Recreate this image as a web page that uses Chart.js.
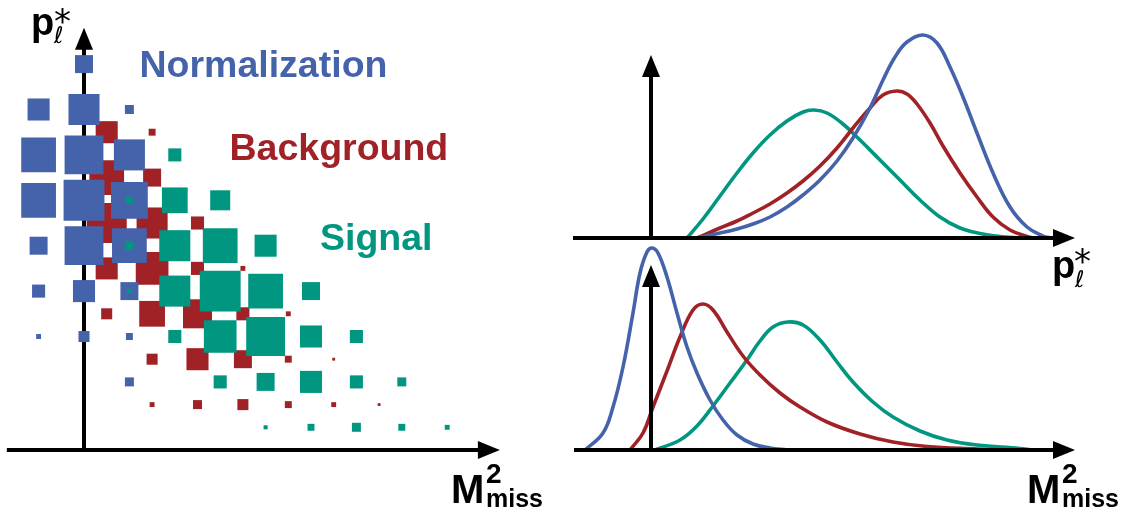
<!DOCTYPE html>
<html>
<head>
<meta charset="utf-8">
<script src="https://cdn.jsdelivr.net/npm/chart.js@4.4.1/dist/chart.umd.min.js"></script>
<style>
  html, body { margin: 0; padding: 0; background: #fff; }
  #wrap { position: relative; width: 1124px; height: 511px; overflow: hidden; background: #fff; }
  #wrap canvas { position: absolute; }
  #labels { position: absolute; left: 0; top: 0; }
  .lab { font-family: "Liberation Sans", Arial, Helvetica, sans-serif; font-weight: bold; }
  .sym { font-family: "DejaVu Sans", sans-serif; }
</style>
</head>
<body>
<div id="wrap">
  <canvas id="cLeft" width="560" height="511" style="left:0;top:0"></canvas>
  <canvas id="cTop" width="564" height="250" style="left:560px;top:0"></canvas>
  <canvas id="cBot" width="564" height="271" style="left:560px;top:240px"></canvas>
  <svg id="labels" width="1124" height="511" xmlns="http://www.w3.org/2000/svg">
    <text class="lab" x="139.5" y="77" font-size="37.5" fill="rgb(69,99,171)">Normalization</text>
    <text class="lab" x="229.5" y="160" font-size="37.5" fill="rgb(160,33,38)">Background</text>
    <text class="lab" x="320" y="250" font-size="37.5" fill="rgb(0,150,128)">Signal</text>

    <text class="lab" x="31" y="35" font-size="38" fill="#000">p</text>
    <text class="sym" x="54" y="43" font-size="23" font-style="italic" fill="#000">ℓ</text>
    <text class="sym" x="54" y="33" font-size="34" fill="#000">*</text>

    <text class="lab" x="1052" y="278" font-size="38" fill="#000">p</text>
    <text class="sym" x="1075" y="287" font-size="23" font-style="italic" fill="#000">ℓ</text>
    <text class="sym" x="1074" y="273" font-size="34" fill="#000">*</text>

    <text class="lab" x="451" y="503" font-size="40" fill="#000">M</text>
    <text class="lab" x="486" y="483" font-size="28" fill="#000">2</text>
    <text class="lab" x="486" y="507" font-size="25" fill="#000">miss</text>

    <text class="lab" x="1027" y="503" font-size="40" fill="#000">M</text>
    <text class="lab" x="1062" y="483" font-size="28" fill="#000">2</text>
    <text class="lab" x="1062" y="507" font-size="25" fill="#000">miss</text>
  </svg>
</div>
<script>
// ===== Left panel: 2D distribution p*_l vs M2miss =====
// each cell: [M2miss bin centre, p*_l bin centre, relative content (max = 100)]
const normalizationCells = [
  [0, 8.5, 44],
  [-1, 7.5, 54], [0, 7.5, 76], [1, 7.5, 22],
  [-1, 6.5, 85], [0, 6.5, 95], [1, 6.5, 76],
  [-1, 5.5, 85], [0, 5.5, 100], [1, 5.5, 90],
  [-1, 4.5, 44], [0, 4.5, 95], [1, 4.5, 85],
  [-1, 3.5, 32], [0, 3.5, 54], [1, 3.5, 44],
  [-1, 2.5, 12], [0, 2.5, 27], [1, 2.5, 17],
  [1, 1.5, 22]
];
const backgroundCells = [
  [0.5, 7, 54], [1.5, 7, 17],
  [0.5, 6, 85], [1.5, 6, 44],
  [0.5, 5, 98], [1.5, 5, 76], [2.5, 5, 32],
  [0.5, 4, 54], [1.5, 4, 80], [2.5, 4, 32], [3.5, 4, 12],
  [0.5, 3, 27], [1.5, 3, 63], [2.5, 3, 71], [3.5, 3, 32], [4.5, 3, 12],
  [1.5, 2, 27], [2.5, 2, 54], [3.5, 2, 44], [4.5, 2, 17], [5.5, 2, 7],
  [1.5, 1, 12], [2.5, 1, 22], [3.5, 1, 27], [4.5, 1, 17], [5.5, 1, 12], [6.5, 1, 7]
];
const signalCells = [
  [1, 5.5, 17], [1, 4.5, 22], [1, 3.5, 12],
  [2, 6.5, 32],
  [2, 5.5, 63], [3, 5.5, 49],
  [2, 4.5, 76], [3, 4.5, 85], [4, 4.5, 54],
  [2, 3.5, 76], [3, 3.5, 100], [4, 3.5, 85], [5, 3.5, 44],
  [2, 2.5, 32], [3, 2.5, 80], [4, 2.5, 95], [5, 2.5, 54], [6, 2.5, 32],
  [3, 1.5, 32], [4, 1.5, 44], [5, 1.5, 54], [6, 1.5, 32], [7, 1.5, 22],
  [4, 0.5, 10], [5, 0.5, 17], [6, 0.5, 22], [7, 0.5, 17], [8, 0.5, 12]
];

// ===== Right-top: p*_l projections [p*_l, density] =====
const pNormalization = [
  [4.6, 0], [6.9, 0.5], [8.6, 0.9], [10.2, 1.4], [11.9, 2.1], [13.6, 3.1], [15.2, 4.3],
  [16.9, 5.8], [18.6, 7.7], [20.2, 10.0], [21.9, 13.0], [23.2, 15.8], [24.4, 18.1],
  [25.6, 19.6], [27.2, 20.3], [28.6, 19.5], [29.9, 17.1], [31.2, 14.1], [32.6, 10.5],
  [34.2, 6.5], [35.9, 3.1], [37.6, 1.1], [39.2, 0.2], [39.9, 0]
];
const pBackground = [
  [4.6, 0], [6.9, 1.0], [8.6, 1.7], [10.2, 2.5], [11.9, 3.4], [13.6, 4.5], [15.2, 5.7],
  [16.9, 7.2], [18.6, 9.0], [20.2, 11.0], [21.9, 13.0], [23.2, 14.3], [24.6, 14.7],
  [25.6, 14.4], [26.6, 13.4], [27.9, 11.5], [29.2, 9.2], [30.9, 6.5], [32.6, 4.1], [34.2, 2.1],
  [35.9, 0.8], [37.6, 0.15], [38.2, 0]
];
const pSignal = [
  [3.6, 0], [5.2, 1.9], [6.9, 4.2], [8.6, 6.5], [10.2, 8.5], [11.9, 10.3], [13.6, 11.7],
  [15.2, 12.6], [16.3, 12.8], [17.6, 12.5], [19.2, 11.4], [20.9, 9.8], [22.9, 7.8],
  [24.9, 5.8], [26.9, 3.8], [28.9, 2.1], [30.9, 1.0], [32.9, 0.45], [34.9, 0.15], [36.9, 0]
];

// ===== Right-bottom: M2miss projections [M2miss, density] =====
const mNormalization = [
  [-6.6, 0], [-4.8, 1.7], [-3.8, 4.3], [-2.8, 8.3], [-1.8, 13.7], [-1.1, 17.7], [-0.4, 19.8],
  [0.1, 20.2], [0.7, 19.7], [1.6, 17.3], [2.6, 13.7], [3.6, 10.3], [4.6, 7.7], [5.9, 5.0],
  [7.2, 3.0], [8.6, 1.5], [10.2, 0.6], [11.9, 0.2], [13.6, 0]
];
const mBackground = [
  [-2.1, 0], [-0.8, 1.7], [0.2, 4.3], [1.6, 7.9], [2.9, 11.3], [4.2, 14.0], [5.2, 14.6],
  [6.2, 14.0], [7.6, 11.8], [9.2, 9.4], [10.9, 7.5], [12.9, 5.7], [14.9, 4.3], [17.6, 2.8],
  [20.9, 1.6], [24.2, 0.8], [27.6, 0.35], [32.6, 0.1], [34.9, 0]
];
const mSignal = [
  [0.4, 0], [2.9, 1.0], [4.6, 2.4], [6.2, 4.4], [7.9, 6.7], [9.6, 9.0], [10.9, 10.9],
  [12.2, 12.3], [13.7, 12.8], [15.2, 12.5], [16.9, 11.0], [18.6, 8.8], [20.2, 6.8],
  [22.2, 4.8], [24.2, 3.3], [26.9, 1.9], [29.6, 1.0], [32.6, 0.5], [36.9, 0.15], [38.0, 0]
];

// ===== styles / layout =====
const BLUE = 'rgb(69,99,171)';
const RED = 'rgb(160,33,38)';
const TEAL = 'rgb(0,150,128)';

function ranges(L) {
  return {
    x: { type: 'linear', display: false, min: -L.ox / L.unit, max: (L.w - L.ox) / L.unit },
    y: { type: 'linear', display: false, min: -(L.h - L.oy) / L.unit, max: L.oy / L.unit }
  };
}

function arrowAxes(spec) {
  const HL = 22, HW = 9;
  return {
    id: 'arrowAxes',
    [spec.hook]: (chart) => {
      const { ctx } = chart;
      const x = chart.scales.x, y = chart.scales.y;
      const x0 = x.getPixelForValue(0), y0 = y.getPixelForValue(0);
      const xs = x.getPixelForValue(spec.xFrom), xe = x.getPixelForValue(spec.xTo);
      const ye = y.getPixelForValue(spec.yTo);
      ctx.save();
      ctx.strokeStyle = '#000';
      ctx.fillStyle = '#000';
      ctx.lineWidth = 4;
      ctx.lineCap = 'butt';
      // horizontal axis
      ctx.beginPath(); ctx.moveTo(xs, y0); ctx.lineTo(xe - HL + 2, y0); ctx.stroke();
      ctx.beginPath(); ctx.moveTo(xe, y0); ctx.lineTo(xe - HL, y0 - HW); ctx.lineTo(xe - HL, y0 + HW); ctx.closePath(); ctx.fill();
      // vertical axis
      ctx.beginPath(); ctx.moveTo(x0, y0 + 2); ctx.lineTo(x0, ye + HL - 2); ctx.stroke();
      ctx.beginPath(); ctx.moveTo(x0, ye); ctx.lineTo(x0 - HW, ye + HL); ctx.lineTo(x0 + HW, ye + HL); ctx.closePath(); ctx.fill();
      ctx.restore();
    }
  };
}

const common = {
  responsive: false,
  animation: false,
  events: [],
  layout: { padding: 0 },
  plugins: { legend: { display: false }, tooltip: { enabled: false }, title: { display: false } }
};

function cellRadius(ctx) {
  const s = ctx.chart.scales && ctx.chart.scales.x;
  if (!s || !ctx.raw) return 0;
  const u = Math.abs(s.getPixelForValue(1) - s.getPixelForValue(0));
  return (ctx.raw.c / 100) * 0.9 * u / Math.SQRT2;
}

function cellSet(label, cells, color) {
  return {
    label,
    data: cells.map(([x, y, c]) => ({ x, y, c })),
    pointStyle: 'rect',
    pointBackgroundColor: color,
    backgroundColor: color,
    pointBorderWidth: 0,
    borderWidth: 0,
    pointRadius: cellRadius,
    pointHoverRadius: cellRadius
  };
}

const LEFT = { w: 560, h: 511, ox: 84, oy: 450, unit: 45.4 };
new Chart(document.getElementById('cLeft'), {
  type: 'scatter',
  data: {
    datasets: [
      cellSet('Signal', signalCells, TEAL),
      cellSet('Normalization', normalizationCells, BLUE),
      cellSet('Background', backgroundCells, RED)
    ]
  },
  options: Object.assign({}, common, { scales: ranges(LEFT) }),
  plugins: [arrowAxes({ hook: 'beforeDatasetsDraw', xFrom: -1.7, xTo: 9.16, yTo: 9.3 })]
});

function curve(label, pts, color) {
  return {
    label,
    data: pts.map(([x, y]) => ({ x, y })),
    borderColor: color,
    backgroundColor: color,
    borderWidth: 3.6,
    pointRadius: 0,
    fill: false,
    tension: 0.4,
    cubicInterpolationMode: 'default',
    capBezierPoints: true
  };
}

const TOP = { w: 564, h: 250, ox: 91, oy: 238, unit: 10 };
new Chart(document.getElementById('cTop'), {
  type: 'line',
  data: {
    datasets: [
      curve('Normalization', pNormalization, BLUE),
      curve('Background', pBackground, RED),
      curve('Signal', pSignal, TEAL)
    ]
  },
  options: Object.assign({}, common, { scales: ranges(TOP) }),
  plugins: [arrowAxes({ hook: 'afterDatasetsDraw', xFrom: -7.8, xTo: 42.4, yTo: 18.3 })]
});

const BOT = { w: 564, h: 271, ox: 91, oy: 210, unit: 10 };
new Chart(document.getElementById('cBot'), {
  type: 'line',
  data: {
    datasets: [
      curve('Normalization', mNormalization, BLUE),
      curve('Background', mBackground, RED),
      curve('Signal', mSignal, TEAL)
    ]
  },
  options: Object.assign({}, common, { scales: ranges(BOT) }),
  plugins: [arrowAxes({ hook: 'afterDatasetsDraw', xFrom: -7.7, xTo: 42.4, yTo: 18.5 })]
});
</script>
</body>
</html>
